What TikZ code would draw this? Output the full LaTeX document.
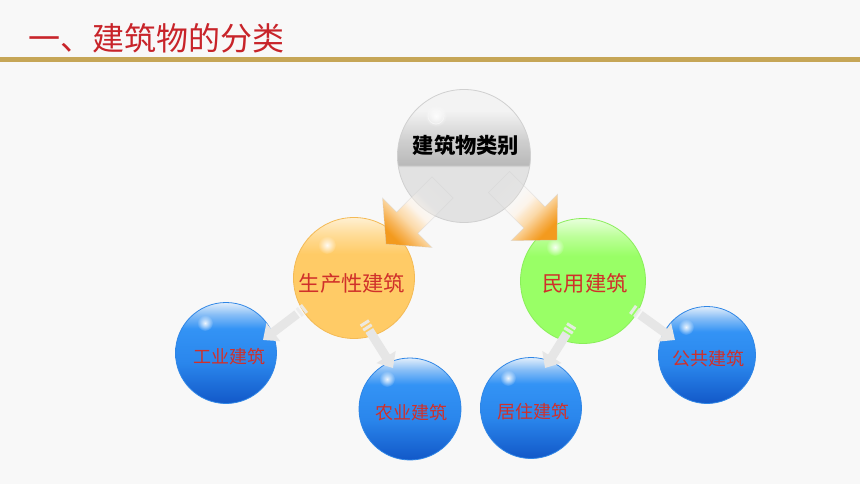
\documentclass[tikz,border=0pt]{standalone}
\usepackage{fontspec}
\newfontfamily\cjk{Noto Sans CJK SC}
\usetikzlibrary{arrows.meta,calc,fadings,shadings}
\definecolor{bgc}{HTML}{F8F8F8}
\definecolor{titlered}{HTML}{C8242A}
\definecolor{lblred}{HTML}{D0302A}
\definecolor{goldc}{HTML}{C6A657}
\definecolor{connc}{HTML}{E6E6E6}
% arrow colours
\definecolor{arA}{HTML}{F39A1E}
\definecolor{arB}{HTML}{F7B55A}
\definecolor{arC}{HTML}{FBD9A8}
\definecolor{arD}{HTML}{FEF3E6}
% blue ball
\definecolor{blB}{HTML}{1258C8}
\definecolor{blM}{HTML}{2A86EC}
\definecolor{blM2}{HTML}{3393F5}
\definecolor{blL}{HTML}{86BDF6}
\definecolor{blT}{HTML}{E2EEFB}
\definecolor{blrim}{HTML}{2F86E6}
% yellow ball
\definecolor{yeB}{HTML}{FFCB66}
\definecolor{yeL}{HTML}{FFDC98}
\definecolor{yeT}{HTML}{FFF0D2}
\definecolor{yerim}{HTML}{F4BA55}
% green ball
\definecolor{grB}{HTML}{99FF66}
\definecolor{grL}{HTML}{BDFF9A}
\definecolor{grT}{HTML}{E8FFDC}
\definecolor{grrim}{HTML}{8AEE5A}
% gray ball
\definecolor{gyB}{HTML}{E2E2E2}
\definecolor{gyD}{HTML}{B9B9B9}
\definecolor{gyM}{HTML}{CFCFCF}
\definecolor{gyT}{HTML}{F3F3F3}
\definecolor{gyrim}{HTML}{D0D0D0}
\pgfdeclareverticalshading{blueball}{100bp}{color(0bp)=(blB); color(25bp)=(blB); color(45bp)=(blM); color(62bp)=(blM2); color(69bp)=(blL); color(75bp)=(blT); color(100bp)=(blT)}
\pgfdeclareverticalshading{yellowball}{100bp}{color(0bp)=(yeB); color(25bp)=(yeB); color(60bp)=(yeB); color(68bp)=(yeL); color(75bp)=(yeT); color(100bp)=(yeT)}
\pgfdeclareverticalshading{greenball}{100bp}{color(0bp)=(grB); color(25bp)=(grB); color(60bp)=(grB); color(68bp)=(grL); color(75bp)=(grT); color(100bp)=(grT)}
\pgfdeclareverticalshading{grayball}{100bp}{color(0bp)=(gyB); color(25bp)=(gyB); color(46bp)=(gyB); color(46.6bp)=(gyD); color(56bp)=(gyM); color(67bp)=(gyT); color(75bp)=(gyT); color(100bp)=(gyT)}
\pgfdeclareverticalshading{arrowshade}{100bp}{color(0bp)=(arA); color(25bp)=(arA); color(32bp)=(arB); color(40bp)=(arC); color(50bp)=(arD); color(75bp)=(white); color(100bp)=(white)}
\pgfdeclareverticalshading{arrowfadeshade}{100bp}{color(0bp)=(white); color(25bp)=(white); color(46bp)=(white); color(54bp)=(white!45!black); color(60bp)=(white!8!black); color(75bp)=(black); color(100bp)=(black)}
\pgfdeclarefading{arrowfade}{\pgfuseshading{arrowfadeshade}}
\tikzfading[name=glowfade, inner color=transparent!10, outer color=transparent!100]
\tikzset{
  ball/.style={circle, inner sep=0pt, shade, line width=0.8pt},
  blueb/.style={ball, shading=blueball, draw=blrim, minimum size=#1},
  lbl/.style={inner sep=0pt, text=lblred, font=\cjk\fontsize{18}{20}\selectfont},
  biglbl/.style={inner sep=0pt, text=lblred, font=\cjk\fontsize{21.3}{24}\selectfont},
  stripe/.style={draw=white!85!gray, line width=10pt, opacity=0.9},
  conn/.style={draw=connc, line width=9pt, -{Triangle[width=22pt,length=13pt]}},
  bigarrow/.style={draw=black!18, draw opacity=0.5, line width=0.5pt},
  glow/.style={fill=white, path fading=glowfade}
}
\begin{document}
\begin{tikzpicture}[x=1pt,y=-1pt]
\fill[bgc] (0,0) rectangle (860,484);
\useasboundingbox (0,0) rectangle (860,484);
% title
\node[anchor=west, inner sep=0pt, text=titlered, font=\cjk\fontsize{32}{36}\selectfont] (title) at (28,38) {一、建筑物的分类};
\fill[goldc] (0,57) rectangle (860,62);
% spheres
\node[ball, shading=grayball, draw=gyrim, minimum size=133pt] (top) at (464,156) {};
\node[ball, shading=yellowball, draw=yerim, minimum size=121pt] (prod) at (354,278) {};
\node[ball, shading=greenball, draw=grrim, minimum size=125pt] (civil) at (583,281) {};
\node[blueb=101pt] (gongye) at (226,353) {};
\node[blueb=102pt] (nongye) at (410,409) {};
\node[blueb=101pt] (juzhu) at (531,408) {};
\node[blueb=97pt] (gonggong) at (707,355) {};
% highlights
\fill[glow] ($(top.center)+(-28,-40)$) circle (11);
\draw[white!92!gray, line width=0.8pt] ($(top.center)+(-28,-40)$) circle (8);
\fill[glow] ($(prod.center)+(-27,-33)$) circle (9);
\fill[glow] ($(civil.center)+(-28,-34)$) circle (9);
\fill[glow] ($(gongye.center)+(-21,-30)$) circle (8);
\fill[glow] ($(nongye.center)+(-23,-30)$) circle (8);
\fill[glow] ($(juzhu.center)+(-23,-30)$) circle (8);
\fill[glow] ($(gonggong.center)+(-21,-28)$) circle (8);
% big block arrows
\path[shading=arrowshade, shading angle=-45, path fading=arrowfade, fading angle=-45]
  (432,176.8) -- (396.6,212.2) -- (382.5,198.1) -- (386,244) -- (431.9,247.5) -- (417.8,233.4) -- (453.2,198) -- cycle;
\path[shading=arrowshade, shading angle=45, path fading=arrowfade, fading angle=45]
  (509.6,171.4) -- (545,206.8) -- (557.7,194.1) -- (557,240) -- (511.1,240.7) -- (523.8,228) -- (488.4,192.6) -- cycle;
\draw[bigarrow] (432,176.8) -- (396.6,212.2) -- (382.5,198.1) -- (386,244) -- (431.9,247.5) -- (417.8,233.4) -- (453.2,198) -- cycle;
\draw[bigarrow] (509.6,171.4) -- (545,206.8) -- (557.7,194.1) -- (557,240) -- (511.1,240.7) -- (523.8,228) -- (488.4,192.6) -- cycle;
% small connectors
\coordinate (s1) at (305,308); \coordinate (t1) at (263,340);
\coordinate (s2) at (364,322); \coordinate (t2) at (393,368);
\coordinate (s3) at (572,325); \coordinate (t3) at (545,368);
\coordinate (s4) at (632,309); \coordinate (t4) at (675,340);
\foreach \i in {1,2,3,4}{
  \draw[stripe] (s\i) -- ($(s\i)!3pt!(t\i)$);
  \draw[stripe] ($(s\i)!5pt!(t\i)$) -- ($(s\i)!8pt!(t\i)$);
  \draw[conn] ($(s\i)!10pt!(t\i)$) -- (t\i);
}
% labels
\node[inner sep=0pt, text=black, font=\cjk\bfseries\fontsize{21.3}{24}\selectfont] (toplbl) at (466,145) {建筑物类别};
\node[biglbl] (prodlbl) at (352,283) {生产性建筑};
\node[biglbl] (civillbl) at (585,283) {民用建筑};
\node[lbl] (gylbl) at (229,357) {工业建筑};
\node[lbl] (nylbl) at (411,413) {农业建筑};
\node[lbl] (jzlbl) at (533,412) {居住建筑};
\node[lbl] (gglbl) at (708.5,359) {公共建筑};
\end{tikzpicture}
\end{document}
